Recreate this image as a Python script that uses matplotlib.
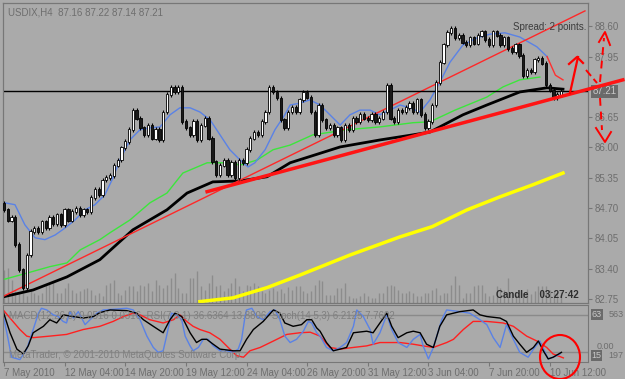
import matplotlib.pyplot as plt
import numpy as np
from matplotlib.patches import Ellipse

plt.rcParams['font.family'] = ['Liberation Sans', 'DejaVu Sans']

# ---- data ----
closes = [84.66, 84.44, 84.49, 83.91, 83.37, 82.99, 83.69, 84.19, 84.27, 84.19,
          84.40, 84.27, 84.49, 84.36, 84.55, 84.34, 84.66, 84.44, 84.62, 84.70,
          84.55, 84.66, 84.62, 84.92, 85.09, 84.98, 85.30, 85.35, 85.39, 85.62,
          85.73, 85.99, 86.12, 86.38, 86.80, 86.63, 86.42, 86.27, 86.48, 86.20,
          86.38, 86.16, 86.76, 87.13, 87.28, 87.19, 87.28, 86.55, 86.42, 86.27,
          86.55, 86.16, 86.48, 86.63, 86.20, 85.69, 85.41, 85.62, 85.73, 85.41,
          85.67, 85.35, 85.73, 85.67, 85.95, 86.20, 86.33, 86.27, 86.55, 86.76,
          87.28, 87.19, 87.06, 86.59, 86.42, 86.76, 86.85, 86.76, 87.02, 87.19,
          87.08, 86.76, 86.27, 86.91, 86.59, 86.42, 86.48, 86.27, 86.42, 86.16,
          86.48, 86.38, 86.63, 86.55, 86.70, 86.63, 86.59, 86.70, 86.55, 86.63,
          86.76, 87.34, 86.63, 86.55, 86.80, 86.76, 86.85, 86.95, 86.76, 87.02,
          86.70, 86.42, 86.55, 86.91, 87.40, 87.83, 88.20, 88.46, 88.56, 88.35,
          88.41, 88.26, 88.20, 88.35, 88.24, 88.41, 88.48, 88.31, 88.20, 88.48,
          88.41, 88.20, 88.35, 88.13, 88.05, 88.20, 87.98, 87.55, 87.66, 87.62,
          87.88, 87.92, 87.81, 87.34, 87.23, 87.06, 87.13, 87.21]
first_open = 84.80

volumes = [33, 35, 23, 12, 10, 10, 7, 13, 10, 8,
           10, 18, 20, 22, 10, 10, 15, 20, 13, 10,
           12, 14, 15, 13, 8, 10, 7, 18, 20, 23,
           10, 8, 13, 17, 17, 12, 18, 17, 20, 12,
           23, 18, 15, 18, 25, 30, 15, 10, 10, 25,
           25, 32, 17, 13, 20, 28, 17, 18, 12, 15,
           20, 25, 17, 12, 18, 17, 20, 17, 12, 10,
           13, 15, 12, 14, 10, 16, 13,
           17, 17, 12, 10, 12, 18, 23, 22, 8, 8,
           8, 15, 15, 20, 7, 5, 5, 7, 10, 7,
           5, 5, 10, 10, 17, 18, 17, 13, 10, 10,
           12, 10, 7, 7, 10, 10, 13, 15, 8, 10,
           10, 18, 27, 18, 5, 10, 10, 17, 18, 18,
           10, 7, 8, 17, 15, 13, 25, 10, 8, 12,
           10, 14, 9, 12, 17, 17, 17, 13, 12, 9, 11]

# moving averages sampled along the chart: (bar, price)
ma_blue_x = [0.3, 2.9, 5.5, 8.2, 10.8, 13.5, 16.1, 18.7, 21.4, 24.0, 26.6, 28.5, 30.6, 33.2,
             35.9, 38.5, 41.2, 43.8, 46.4, 49.1, 51.7, 54.4, 57.0, 59.6, 62.3, 64.4, 66.2,
             68.9, 71.5, 74.1, 75.5, 78.1, 80.7, 83.4, 86.0, 88.7, 91.3, 93.9, 96.6, 99.2,
             101.8, 104.5, 107.1, 109.8, 112.4, 115.0, 117.7, 121.1, 124.8, 128.2, 132.2,
             136.1, 140.6, 143.3]
ma_blue_y = [84.81, 84.77, 84.34, 84.06, 84.02, 84.12, 84.27, 84.44, 84.66, 84.77, 84.98,
             85.30, 85.73, 86.16, 86.38, 86.42, 86.44, 86.70, 86.85, 86.85, 86.76, 86.59,
             86.27, 85.95, 85.73, 85.58, 85.67, 85.95, 86.38, 86.70, 86.91, 86.95, 87.02,
             86.91, 86.70, 86.48, 86.70, 86.80, 86.80, 86.70, 86.80, 86.91, 86.85, 86.76,
             87.02, 87.40, 87.83, 88.20, 88.35, 88.43, 88.46, 88.37, 88.16, 87.95]
ma_red_x = [143.3, 145.5, 147.5]
ma_red_y = [87.95, 87.55, 87.45]

ma_green_x = [-0.3, 4.2, 12.1, 16.6, 20.1, 25.3, 28.0, 33.2, 38.5, 43.0, 47.2, 53.6, 59.6,
              62.3, 66.8, 71.0, 75.5, 81.5, 90.5, 99.2, 107.9, 112.4, 119.0, 127.4, 131.7,
              136.1, 141.4]
ma_green_y = [83.16, 83.26, 83.44, 83.52, 83.80, 84.02, 84.17, 84.44, 84.81, 85.02, 85.45,
              85.67, 85.67, 85.62, 85.73, 85.95, 86.05, 86.27, 86.38, 86.44, 86.53, 86.55,
              86.80, 87.08, 87.30, 87.45, 87.51]

ma_black_x = [-0.3, 7.7, 16.6, 25.3, 34.0, 43.0, 48.3, 55.1, 62.3, 69.4, 75.5, 88.7, 99.2,
              107.9, 112.4, 121.1, 127.4, 136.1, 143.3, 147.5]
ma_black_y = [82.79, 82.94, 83.22, 83.59, 84.23, 84.66, 85.02, 85.26, 85.28, 85.37, 85.67,
              86.01, 86.16, 86.27, 86.33, 86.70, 86.91, 87.19, 87.28, 87.25]

ma_yellow_x = [51.7, 60.4, 69.4, 78.1, 91.3, 104.5, 113.0, 122.2, 130.9, 139.6, 147.5]
ma_yellow_y = [82.69, 82.77, 82.99, 83.26, 83.69, 84.08, 84.30, 84.66, 84.94, 85.20, 85.45]

trend_thin_x = [-0.5, 153.3]
trend_thin_y = [82.79, 88.93]
trend_thick_x = [53.6, 163.3]
trend_thick_y = [85.05, 87.45]

current_price = 87.21
price_ticks = [82.75, 83.40, 84.05, 84.70, 85.35, 86.00, 86.65, 87.95, 88.60]

date_ticks = [0, 16, 32, 48, 64, 80, 96, 112, 128, 144]
date_labels = ['7 May 2010', '12 May 04:00', '14 May 20:00', '19 May 12:00',
               '24 May 04:00', '26 May 20:00', '31 May 12:00', '3 Jun 04:00',
               '7 Jun 20:00', '10 Jun 12:00']

# lower indicator window: (bar, value)
ind_blue_x = [-0.2, 1.1, 2.0, 4.2, 6.0, 7.7, 9.1, 9.9, 11.3, 13.0, 14.3, 15.6, 16.5, 17.4,
              18.3, 19.6, 21.4, 22.7, 24.5, 26.2, 28.8, 32.4, 34.1, 35.9, 37.7, 39.4, 40.7,
              42.0, 42.9, 44.2, 45.6, 46.9, 47.8, 49.1, 49.9, 51.3, 52.6, 53.9, 55.2, 57.0,
              58.8, 60.5, 61.8, 62.7, 63.6, 64.0, 65.4, 66.7, 68.4, 70.2, 71.5, 72.8, 74.1,
              75.5, 77.2, 79.0, 80.3, 81.2, 82.5, 83.4, 85.1, 86.9, 88.7, 90.4, 92.2, 93.1,
              94.8, 96.6, 97.4, 99.2, 101.0, 102.3, 104.0, 106.3, 108.0, 109.8, 110.6, 112.0,
              113.3, 115.5, 116.8, 120.3, 122.9, 125.6, 127.4, 129.1, 130.9, 132.6, 134.4,
              136.1, 138.3, 139.7, 141.4, 143.6, 144.9, 146.7]
ind_blue_y = [80.1, 40.6, 11.7, 7.9, 24.8, 56.4, 82.8, 90.7, 88.0, 80.1, 77.4, 69.5, 67.0,
              85.3, 74.9, 85.3, 64.3, 72.2, 82.8, 88.0, 89.1, 90.7, 88.0, 72.2, 45.8, 27.5,
              19.6, 22.1, 45.8, 82.8, 80.1, 72.2, 45.8, 30.0, 22.1, 27.5, 40.6, 40.6, 30.0,
              22.1, 22.1, 19.6, 24.8, 40.6, 77.4, 88.0, 90.7, 77.4, 72.2, 85.3, 88.0, 72.2,
              45.8, 35.4, 40.6, 53.7, 69.5, 67.0, 51.2, 45.8, 27.5, 22.1, 27.5, 35.4, 61.6,
              88.0, 77.4, 56.4, 32.7, 51.2, 80.1, 56.4, 35.4, 27.5, 40.6, 48.5, 30.0, 9.0,
              27.5, 72.2, 88.0, 85.3, 82.8, 72.2, 64.3, 43.3, 27.5, 64.3, 40.6, 19.6, 11.7,
              24.8, 37.9, 9.0, 11.7, 16.9]

ind_black_x = [-0.2, 1.6, 3.4, 5.1, 6.4, 7.7, 10.4, 12.1, 13.9, 15.6, 18.3, 20.9, 23.6, 25.3,
               28.0, 32.4, 35.0, 36.8, 39.4, 42.0, 43.8, 45.1, 46.9, 47.8, 49.1, 50.8, 52.2,
               53.5, 55.2, 57.0, 60.5, 62.3, 64.0, 65.8, 68.4, 71.1, 72.8, 74.1, 76.3, 78.5,
               79.9, 81.2, 82.5, 83.4, 85.1, 86.9, 88.7, 90.4, 92.2, 95.7, 97.4, 99.2, 101.0,
               102.3, 104.0, 106.3, 108.0, 109.8, 111.5, 113.3, 115.0, 116.8, 120.3, 123.8,
               125.6, 127.4, 130.9, 132.6, 134.4, 136.1, 137.9, 139.7, 141.0, 142.3, 143.6,
               144.9, 147.1]
ind_black_y = [85.3, 51.2, 24.8, 16.9, 30.0, 51.2, 61.6, 72.2, 67.0, 80.1, 77.4, 74.9, 77.4,
               83.7, 88.0, 86.9, 82.8, 72.2, 61.6, 51.2, 72.2, 82.8, 77.4, 67.0, 51.2, 35.4,
               40.6, 40.6, 32.7, 24.8, 22.1, 22.1, 40.6, 56.4, 69.5, 88.0, 82.8, 67.0, 61.6,
               64.3, 72.2, 72.2, 59.1, 53.7, 35.4, 22.1, 24.8, 27.5, 51.2, 53.7, 51.2, 67.0,
               82.8, 61.6, 43.3, 51.2, 53.7, 51.2, 32.7, 27.5, 61.6, 80.1, 85.3, 88.0, 80.1,
               77.4, 74.9, 69.5, 45.8, 32.7, 19.6, 27.5, 37.9, 22.1, 9.0, 11.7, 19.6]

ind_red_x = [-0.2, 1.6, 4.2, 6.0, 7.7, 12.1, 16.5, 20.9, 25.3, 28.8, 31.5, 34.1, 35.9, 38.5,
             42.0, 44.7, 46.4, 48.2, 49.9, 51.7, 54.3, 57.0, 59.6, 61.4, 63.2, 64.9, 67.6,
             71.1, 74.6, 78.1, 80.8, 83.4, 86.0, 88.7, 92.2, 95.7, 99.2, 104.5, 108.0, 110.6,
             113.3, 116.8, 118.6, 121.2, 123.8, 127.4, 131.7, 134.4, 137.9, 140.6, 143.2,
             144.9, 147.6]
ind_red_y = [88.0, 74.9, 56.4, 45.8, 43.3, 45.8, 48.5, 56.4, 61.6, 69.5, 77.4, 82.8, 80.1,
             72.2, 67.0, 72.2, 80.1, 69.5, 61.6, 56.4, 51.2, 40.6, 24.8, 14.2, 11.7, 22.1,
             27.5, 37.9, 48.5, 51.2, 52.1, 45.8, 27.5, 24.8, 27.5, 30.0, 35.4, 35.4, 32.7,
             30.0, 27.5, 35.4, 40.6, 56.4, 69.5, 69.5, 67.0, 61.6, 45.8, 37.9, 27.5, 16.9,
             10.6]
ind_levels = [80, 20]

# ---- figure ----
BG = '#aaaaaa'
TXT = '#6e6e6e'
W, H = 625, 379
fig = plt.figure(figsize=(6.25, 3.79), dpi=100, facecolor=BG)

ax = fig.add_axes([3 / W, 1 - 303 / H, 585 / W, 300 / H])
low = fig.add_axes([3 / W, 1 - 362 / H, 585 / W, 57 / H])
vax = ax.twinx()
ax.set_zorder(vax.get_zorder() + 1)
ax.patch.set_visible(False)
vax.set_facecolor(BG)

xmin, xmax = -0.26, 154.1
n = len(closes)
bars = np.arange(n)
opens = np.array([first_open] + closes[:-1])
cl = np.array(closes)

# volumes
vax.vlines(bars, 0, volumes, color='#8c8c8c', lw=1)
vax.set_ylim(0, 300)
vax.set_yticks([])

# moving averages
ax.plot(ma_yellow_x, ma_yellow_y, color='#ffff00', lw=2.5)
ax.plot(ma_black_x, ma_black_y, color='black', lw=2)
ax.plot(ma_green_x, ma_green_y, color='#3ce63c', lw=1)
ax.plot(ma_blue_x, ma_blue_y, color='#5a82e6', lw=1)
ax.plot(ma_red_x, ma_red_y, color='#ff3030', lw=1)

# trend lines
ax.plot(trend_thin_x, trend_thin_y, color='#ff2828', lw=1)
ax.plot(trend_thick_x, trend_thick_y, color='#ff1414', lw=2.5, clip_on=False, zorder=5)
ax.axhline(current_price, color='black', lw=1)

# candles
up = cl >= opens
lo = np.minimum(opens, cl)
hi = np.maximum(opens, cl)
wick = 0.05
ax.vlines(bars, lo - wick, hi + wick, color='black', lw=0.8, zorder=3)
ax.bar(bars[up], (hi - lo)[up] + 0.02, bottom=lo[up] - 0.01, width=0.6,
       color='white', edgecolor='black', lw=0.6, zorder=4)
ax.bar(bars[~up], (hi - lo)[~up] + 0.02, bottom=lo[~up] - 0.01, width=0.6,
       color='#1a1a1a', edgecolor='black', lw=0.6, zorder=4)

ax.set_xlim(xmin, xmax)
vax.set_xlim(xmin, xmax)
ax.set_ylim(82.66, 89.10)
ax.yaxis.tick_right()
ax.set_yticks(price_ticks)
ax.set_yticklabels([f'{p:.2f}' for p in price_ticks])
ax.tick_params(axis='y', length=3, width=0.8, color='#777777', labelsize=7,
               labelcolor=TXT, pad=2)
ax.set_xticks([])
for a in (ax, vax, low):
    for s in a.spines.values():
        s.set_color('#777777')
        s.set_linewidth(0.8)

ax.annotate(f'{current_price:.2f}', xy=(1, current_price), xycoords=('axes fraction', 'data'),
            xytext=(3, 0), textcoords='offset points', va='center', ha='left',
            fontsize=7, color='#c8c8c8',
            bbox=dict(boxstyle='square,pad=0.15', fc='#6a6a6a', ec='none'))

ax.text(0.008, 0.985, 'USDIX,H4  87.16 87.22 87.14 87.21', transform=ax.transAxes,
        fontsize=7, color=TXT, va='top', ha='left')
ax.text(0.872, 0.935, 'Spread: 2 points.', transform=ax.transAxes,
        fontsize=7, color='#3c3c3c', va='top', ha='left')
ax.text(0.985, 0.01, 'Candle    03:27:42', transform=ax.transAxes,
        fontsize=7, color='#2e2e2e', va='bottom', ha='right', fontweight='bold', zorder=6)

# lower window
low.set_facecolor(BG)
for lv in ind_levels:
    low.axhline(lv, color='#8a8a8a', lw=1)
low.text(0.01, 0.9, 'MACD(12,26,9) 0.0516 0.0316  RSI(7,3,1) 36.6364 13.8806  '
         'Stoch(14,5,3) 6.2125 7.7602', transform=low.transAxes, fontsize=7,
         color='#808080', va='top', ha='left')
low.text(0.01, 0.03, 'MetaTrader, \u00a9 2001-2010 MetaQuotes Software Corp.',
         transform=low.transAxes, fontsize=7, color='#808080', va='bottom', ha='left')
low.plot(ind_red_x, ind_red_y, color='#ff2020', lw=1)
low.plot(ind_blue_x, ind_blue_y, color='#5a82e6', lw=1)
low.plot(ind_black_x, ind_black_y, color='black', lw=1)
low.set_xlim(xmin, xmax)
low.set_ylim(4, 96)
low.set_yticks([])
low.set_xticks(date_ticks)
low.set_xticklabels(date_labels, ha='left')
low.tick_params(axis='x', length=3, width=0.8, color='#777777', labelsize=7,
                labelcolor=TXT, pad=1)
low.text(1.006, 0.84, '63', transform=low.transAxes, fontsize=6.5, color='#c8c8c8',
         va='center', ha='left', bbox=dict(boxstyle='square,pad=0.1', fc='#6a6a6a', ec='none'))
low.text(1.035, 0.84, '563', transform=low.transAxes, fontsize=6.5, color=TXT,
         va='center', ha='left')
low.text(1.015, 0.27, '0.00', transform=low.transAxes, fontsize=6.5, color=TXT,
         va='center', ha='left')
low.text(1.006, 0.12, '15', transform=low.transAxes, fontsize=6.5, color='#c8c8c8',
         va='center', ha='left', bbox=dict(boxstyle='square,pad=0.1', fc='#6a6a6a', ec='none'))
low.text(1.035, 0.12, '197', transform=low.transAxes, fontsize=6.5, color=TXT,
         va='center', ha='left')

# hand-drawn red marks (pixel overlay)
ov = fig.add_axes([0, 0, 1, 1], zorder=10)
ov.set_xlim(0, W)
ov.set_ylim(H, 0)
ov.axis('off')
red = '#ff0000'
ov.plot([570, 578], [93, 57], color=red, lw=1.6)
ov.plot([569, 577, 583], [64, 57, 63], color=red, lw=1.6)
ov.plot([586, 597], [70, 83], color=red, lw=1.4, ls=(0, (4, 2)))
ov.plot([600, 604], [82, 38], color=red, lw=1.4, ls=(0, (4, 3)))
ov.plot([599, 605, 610], [42, 32, 45], color=red, lw=1.4)
ov.plot([600, 602], [98, 130], color=red, lw=1.4, ls=(0, (4, 3)))
ov.plot([596, 605, 611], [128, 142, 132], color=red, lw=1.4)
ov.add_patch(Ellipse((560, 357), 40, 44, fill=False, ec=red, lw=1.5))

fig.savefig('out.png', dpi=100, facecolor=BG)
